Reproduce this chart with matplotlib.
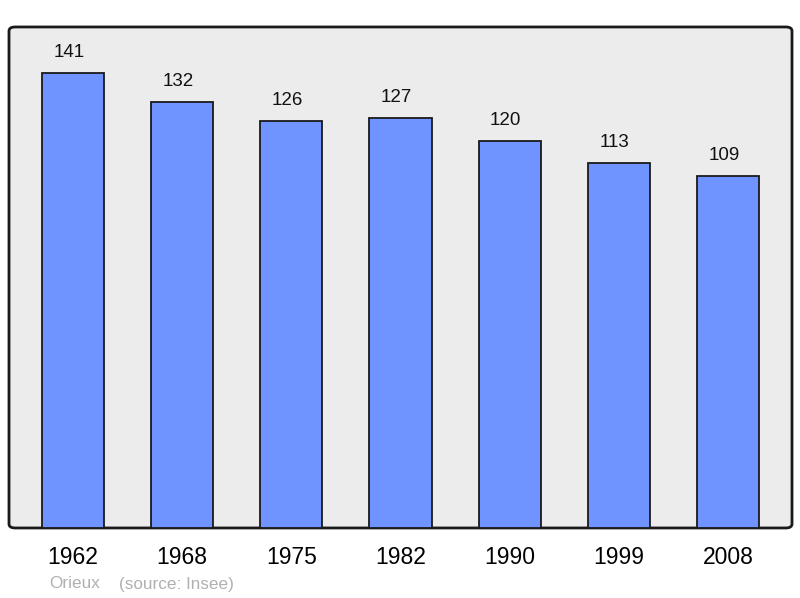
import matplotlib
matplotlib.use("Agg")
import matplotlib.pyplot as plt
from matplotlib.patches import FancyBboxPatch

plt.rcParams['font.family'] = ['Liberation Sans', 'DejaVu Sans']

years = ['1962', '1968', '1975', '1982', '1990', '1999', '2008']
population = [141, 132, 126, 127, 120, 113, 109]

BAR_COLOR = '#7094ff'
BG_COLOR = '#ececec'

fig = plt.figure(figsize=(8, 5.98), dpi=100)
ax = fig.add_axes([0.01125, 0.1171, 0.97875, 0.8378])
ax.set_facecolor('none')

# rounded background frame
frame = FancyBboxPatch((0, 0), 1, 1, boxstyle='round,pad=0,rounding_size=0.008',
                       transform=ax.transAxes, facecolor=BG_COLOR, edgecolor='#1a1a1a',
                       linewidth=2, zorder=0, clip_on=False)
ax.add_patch(frame)

x = list(range(len(years)))
ax.bar(x, population, width=0.57, color=BAR_COLOR, edgecolor='#1a1a1a',
       linewidth=1.3, zorder=2)

for xi, v in zip(x, population):
    ax.annotate(str(v), (xi, v), xytext=(-3, 15), textcoords='offset points',
                ha='center', va='center', fontsize=13.5, color='#111111')

ax.set_xlim(-0.585, len(years) - 1 + 0.585)
ax.set_ylim(0, 155.3)
ax.set_yticks([])
ax.set_xticks(x)
ax.set_xticklabels(years, fontsize=16.5)
ax.tick_params(axis='x', length=0, pad=13)
for s in ax.spines.values():
    s.set_visible(False)

fig.text(49 / 800, 1 - 584 / 598, 'Orieux', fontsize=12.3, color='#b0b0b0',
         ha='left', va='center')
fig.text(119 / 800, 1 - 584 / 598, '(source: Insee)', fontsize=12.3, color='#b0b0b0',
         ha='left', va='center')

fig.savefig('out.png', dpi=100)
